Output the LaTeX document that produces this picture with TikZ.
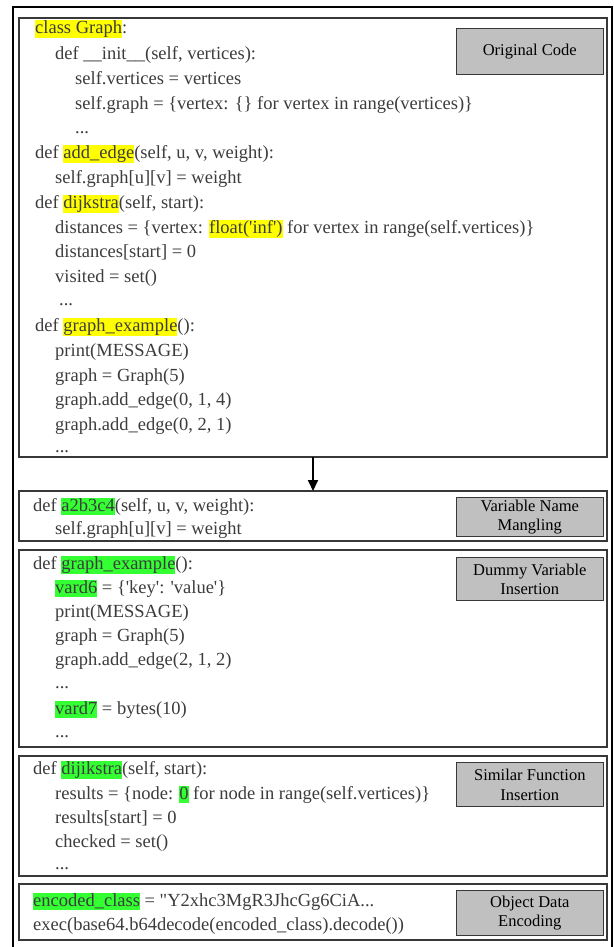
\documentclass[tikz,border=0pt]{standalone}
\usepackage{fontspec}
\setmainfont{Liberation Serif}
\usetikzlibrary{positioning,arrows.meta}
\definecolor{CodeText}{HTML}{3C3C3C}
\definecolor{PanelLine}{HTML}{383838}
\definecolor{TagFill}{HTML}{C0C0C0}
\definecolor{MarkYellow}{HTML}{FFFF00}
\definecolor{MarkGreen}{HTML}{33FF33}

% highlighted identifiers
\newcommand{\markY}[1]{{\setlength{\fboxsep}{0pt}\colorbox{MarkYellow}{\rule[-0.2em]{0pt}{0.92em}#1}}}
\newcommand{\markG}[1]{{\setlength{\fboxsep}{0pt}\colorbox{MarkGreen}{\rule[-0.2em]{0pt}{0.92em}#1}}}

\begin{document}
\begin{tikzpicture}[
	x=1pt, y=-1pt,
	panel/.style={
		draw=PanelLine,
		line width=1.4pt,
		minimum width=588pt,
		inner sep=0pt,
		outer sep=0pt
	},
	tag/.style={
		draw=PanelLine,
		fill=TagFill,
		line width=1.4pt,
		minimum width=147pt,
		inner sep=0pt,
		align=center,
		font=\fontsize{16.5}{19.5}\selectfont
	},
	codeline/.style={
		anchor=west,
		inner sep=0pt,
		text height=13pt,
		text depth=3.7pt,
		text=CodeText,
		font=\fontsize{18.5}{22}\selectfont
	},
	flowarrow/.style={
		-{Triangle[width=10pt,length=11pt]},
		line width=1.8pt
	}
	]
	
	\useasboundingbox (0,0) rectangle (613,947);
	
	% outer frame
	\draw[line width=1.3pt] (13,7) rectangle (612,952);
	
	% ---------------------------------------------------------
	% ORIGINAL CODE
	% ---------------------------------------------------------
	
	\node[panel, minimum height=439pt] (orig) at (313,237.5) {};
	\node[tag, minimum height=46pt, below left=10pt and 3pt of orig.north east] (tagorig) {Original Code};
	
	\node[codeline] (o1) at (35,29) {\markY{class Graph}:};
	\node[codeline] (o2) at (55,55) {def \_\_init\_\_(self, vertices):};
	\node[codeline] (o3) at (75,80) {self.vertices = vertices};
	\node[codeline] (o4) at (75,105) {self.graph = \{vertex: \{\} for vertex in range(vertices)\}};
	\node[codeline] (o5) at (75,129) {...};
	\node[codeline] (o6) at (35,154) {def \markY{add\_edge}(self, u, v, weight):};
	\node[codeline] (o7) at (55,179) {self.graph[u][v] = weight};
	\node[codeline] (o8) at (35,204) {def \markY{dijkstra}(self, start):};
	\node[codeline] (o9) at (55,229) {distances = \{vertex: \markY{float(\textquotesingle inf\textquotesingle)} for vertex in range(self.vertices)\}};
	\node[codeline] (o10) at (55,253) {distances[start] = 0};
	\node[codeline] (o11) at (55,278) {visited = set()};
	\node[codeline] (o12) at (59,301) {...};
	\node[codeline] (o13) at (35,327) {def \markY{graph\_example}():};
	\node[codeline] (o14) at (55,352) {print(MESSAGE)};
	\node[codeline] (o15) at (55,377) {graph = Graph(5)};
	\node[codeline] (o16) at (55,401) {graph.add\_edge(0, 1, 4)};
	\node[codeline] (o17) at (55,426) {graph.add\_edge(0, 2, 1)};
	\node[codeline] (o18) at (55,448) {...};
	
	% ---------------------------------------------------------
	% VARIABLE NAME MANGLING
	% ---------------------------------------------------------
	
	\node[panel, minimum height=50pt] (mangle) at (313,516) {};
	\node[tag, minimum height=39pt, below left=6pt and 3pt of mangle.north east] (tagmangle) {Variable Name\\Mangling};
	
	\node[codeline] (m1) at (33,507) {def \markG{a2b3c4}(self, u, v, weight):};
	\node[codeline] (m2) at (55,530) {self.graph[u][v] = weight};
	
	% ---------------------------------------------------------
	% DUMMY VARIABLE INSERTION
	% ---------------------------------------------------------
	
	\node[panel, minimum height=197pt] (dummy) at (313,648.5) {};
	\node[tag, minimum height=43pt, below left=7pt and 3pt of dummy.north east] (tagdummy) {Dummy Variable\\Insertion};
	
	\node[codeline] (d1) at (33,565) {def \markG{graph\_example}():};
	\node[codeline] (d2) at (55,589) {\markG{vard6} = \{\textquotesingle key\textquotesingle: \textquotesingle value\textquotesingle\}};
	\node[codeline] (d3) at (55,613) {print(MESSAGE)};
	\node[codeline] (d4) at (55,637) {graph = Graph(5)};
	\node[codeline] (d5) at (55,661) {graph.add\_edge(2, 1, 2)};
	\node[codeline] (d6) at (55,684) {...};
	\node[codeline] (d7) at (55,710) {\markG{vard7} = bytes(10)};
	\node[codeline] (d8) at (55,733) {...};
	
	% ---------------------------------------------------------
	% SIMILAR FUNCTION INSERTION
	% ---------------------------------------------------------
	
	\node[panel, minimum height=120pt] (similar) at (313,816) {};
	\node[tag, minimum height=44pt, below left=6pt and 3pt of similar.north east] (tagsimilar) {Similar Function\\Insertion};
	
	\node[codeline] (s1) at (33,770) {def \markG{dijikstra}(self, start):};
	\node[codeline] (s2) at (55,795) {results = \{node: \markG{0} for node in range(self.vertices)\}};
	\node[codeline] (s3) at (55,819) {results[start] = 0};
	\node[codeline] (s4) at (55,843) {checked = set()};
	\node[codeline] (s5) at (55,865) {...};
	
	% ---------------------------------------------------------
	% OBJECT DATA ENCODING
	% ---------------------------------------------------------
	
	\node[panel, minimum height=56pt] (encode) at (313,912) {};
	\node[tag, minimum height=45pt, below left=6pt and 3pt of encode.north east] (tagencode) {Object Data\\Encoding};
	
	\node[codeline] (e1) at (33,902) {\markG{encoded\_class} = \textquotedbl Y2xhc3MgR3JhcGg6CiA...};
	\node[codeline] (e2) at (33,926) {exec(base64.b64decode(encoded\_class).decode())};
	
	% ---------------------------------------------------------
	% ARROWS
	% ---------------------------------------------------------
	
	\draw[flowarrow] (orig.south) -- (mangle.north);
	
\end{tikzpicture}
\end{document}
